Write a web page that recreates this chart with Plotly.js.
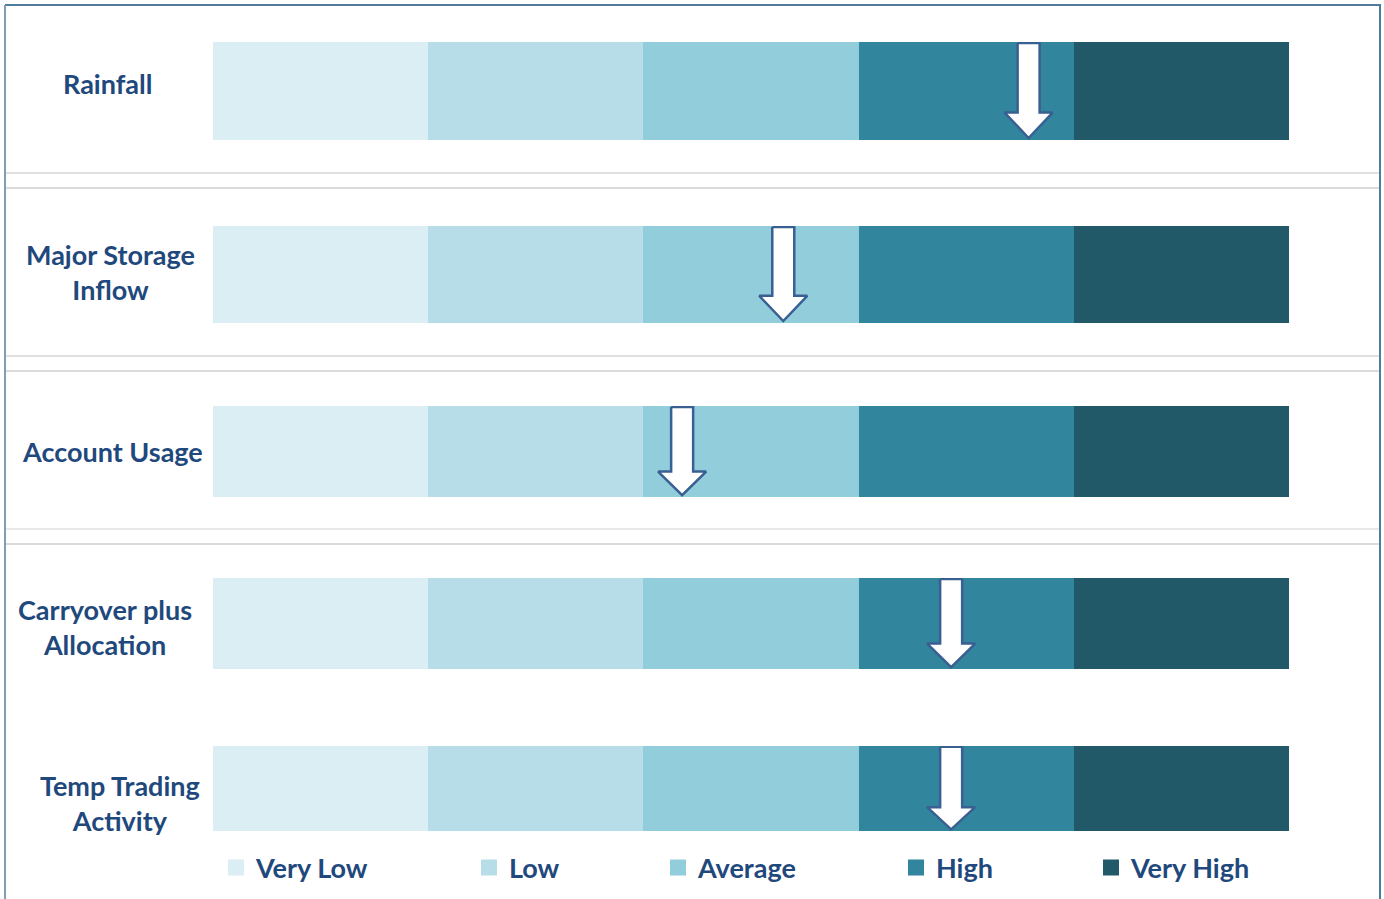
<!DOCTYPE html>
<html>
<head>
<meta charset="utf-8">
<script src="https://cdn.plot.ly/plotly-3.0.1.min.js"></script>
<style>
  html, body { margin: 0; padding: 0; background: #ffffff; }
  #chart { width: 1384px; height: 899px; }
</style>
</head>
<body>
<div id="chart"></div>
<script>
// Water market indicators: each indicator is shown on a five-band scale,
// with an arrow marking the current reading.
const indicators = ['Rainfall', 'Major Storage<br>Inflow', 'Account Usage', 'Carryover plus<br>Allocation', 'Temp Trading<br>Activity'];
const bands = ['Very Low', 'Low', 'Average', 'High', 'Very High'];
const bandSpan = [1, 1, 1, 1, 1];
// Current reading of each indicator on the 0–5 band scale
const readings = [3.79, 2.65, 2.18, 3.43, 3.43];

const bandColors = ['#daeef3', '#b7dde8', '#92cddc', '#31859c', '#215968'];
const textColor = '#1f497d';
const arrowLine = '#3a5f92';

const W = 1384, H = 899;
const px = x => x / W;
const py = y => 1 - y / H;

// Page layout (pixels)
const plotLeft = 213, plotRight = 1289;
const rowExtent = [[42, 140], [226, 323], [406, 497], [578, 669], [746, 831]];
const labelPos = [[107, 84], [110, 272], [112, 452], [105, 627], [120, 803]];
const legendTextX = [258, 511, 700, 938, 1133];
const legendY = 868;
const font = 'Lato, "Open Sans", sans-serif';
const labelSize = 27;

// Arrow geometry in axis units (x: band units, y: bar height units)
const shaftHalf = 11 / ((plotRight - plotLeft) / 5);
const headHalf = 24 / ((plotRight - plotLeft) / 5);
const arrowTop = 0.49, headBase = -0.22, arrowTip = -0.48;

const traces = [];
const layout = {
  width: W, height: H,
  margin: {l: 0, r: 0, t: 0, b: 0},
  paper_bgcolor: '#ffffff', plot_bgcolor: 'rgba(0,0,0,0)',
  barmode: 'stack', bargap: 0,
  showlegend: true,
  font: {family: font, color: textColor},
  xaxis: {domain: [px(plotLeft), px(plotRight)], range: [0, 5], visible: false, fixedrange: true},
  annotations: [], shapes: []
};

indicators.forEach((name, r) => {
  const yName = r === 0 ? 'y' : 'y' + (r + 1);
  const yKey = r === 0 ? 'yaxis' : 'yaxis' + (r + 1);
  layout[yKey] = {
    domain: [py(rowExtent[r][1]), py(rowExtent[r][0])],
    range: [-0.5, 0.5], visible: false, fixedrange: true, anchor: 'x'
  };

  // Five stacked bands
  bands.forEach((band, b) => {
    traces.push({
      type: 'bar', orientation: 'h',
      x: [bandSpan[b]], y: [0], width: [1],
      name: band,
      marker: {color: bandColors[b], line: {width: 0}},
      xaxis: 'x', yaxis: yName,
      showlegend: false,
      hoverinfo: 'name'
    });
  });

  // Down arrow marking the current reading
  const v = readings[r];
  traces.push({
    type: 'scatter', mode: 'lines',
    x: [v - shaftHalf, v + shaftHalf, v + shaftHalf, v + headHalf, v, v - headHalf, v - shaftHalf, v - shaftHalf],
    y: [arrowTop, arrowTop, headBase, headBase, arrowTip, headBase, headBase, arrowTop],
    fill: 'toself', fillcolor: '#ffffff',
    line: {color: arrowLine, width: 2.5, shape: 'linear'},
    xaxis: 'x', yaxis: yName,
    showlegend: false, hoverinfo: 'skip'
  });

  // Indicator name
  layout.annotations.push({
    text: name, xref: 'paper', yref: 'paper',
    x: px(labelPos[r][0]), y: py(labelPos[r][1]),
    xanchor: 'center', yanchor: 'middle', showarrow: false, align: 'center',
    font: {family: font, size: labelSize, color: textColor, weight: 'bold'}
  });
});

// Band key: one legend per band so each entry sits at its own position,
// drawn with square swatches in the band colours
bands.forEach((band, b) => {
  const legendKey = b === 0 ? 'legend' : 'legend' + (b + 1);
  traces.push({
    type: 'scatter', mode: 'markers',
    x: [null], y: [null], name: band,
    marker: {symbol: 'square', size: 16, color: bandColors[b], line: {width: 0}},
    xaxis: 'x', yaxis: 'y',
    showlegend: true, legend: legendKey, hoverinfo: 'skip'
  });
  layout[legendKey] = {
    x: px(legendTextX[b] - 42), y: py(legendY),
    xanchor: 'left', yanchor: 'middle',
    orientation: 'h', bgcolor: 'rgba(0,0,0,0)', borderwidth: 0,
    font: {family: font, size: labelSize, color: textColor, weight: 'bold'},
    itemclick: false, itemdoubleclick: false
  };
});

// Frame and row separators
const frame = '#4f7c9c';
layout.shapes.push(
  {type: 'line', xref: 'paper', yref: 'paper', x0: px(5), x1: px(1381), y0: py(5), y1: py(5), line: {color: frame, width: 2}},
  {type: 'line', xref: 'paper', yref: 'paper', x0: px(5), x1: px(5), y0: py(5), y1: py(905), line: {color: '#7f9db3', width: 2}},
  {type: 'line', xref: 'paper', yref: 'paper', x0: px(1380), x1: px(1380), y0: py(5), y1: py(905), line: {color: frame, width: 2}}
);
[[173, '#d6d6d6'], [188, '#cfcfcf'], [356, '#d6d6d6'], [371, '#cfcfcf'], [529, '#e0e0e0'], [544, '#cfcfcf']].forEach(([y, c]) => {
  layout.shapes.push({type: 'line', xref: 'paper', yref: 'paper', x0: px(6), x1: px(1379), y0: py(y), y1: py(y), line: {color: c, width: 1.5}});
});

Plotly.newPlot('chart', traces, layout, {displayModeBar: false, staticPlot: true});
</script>
</body>
</html>
